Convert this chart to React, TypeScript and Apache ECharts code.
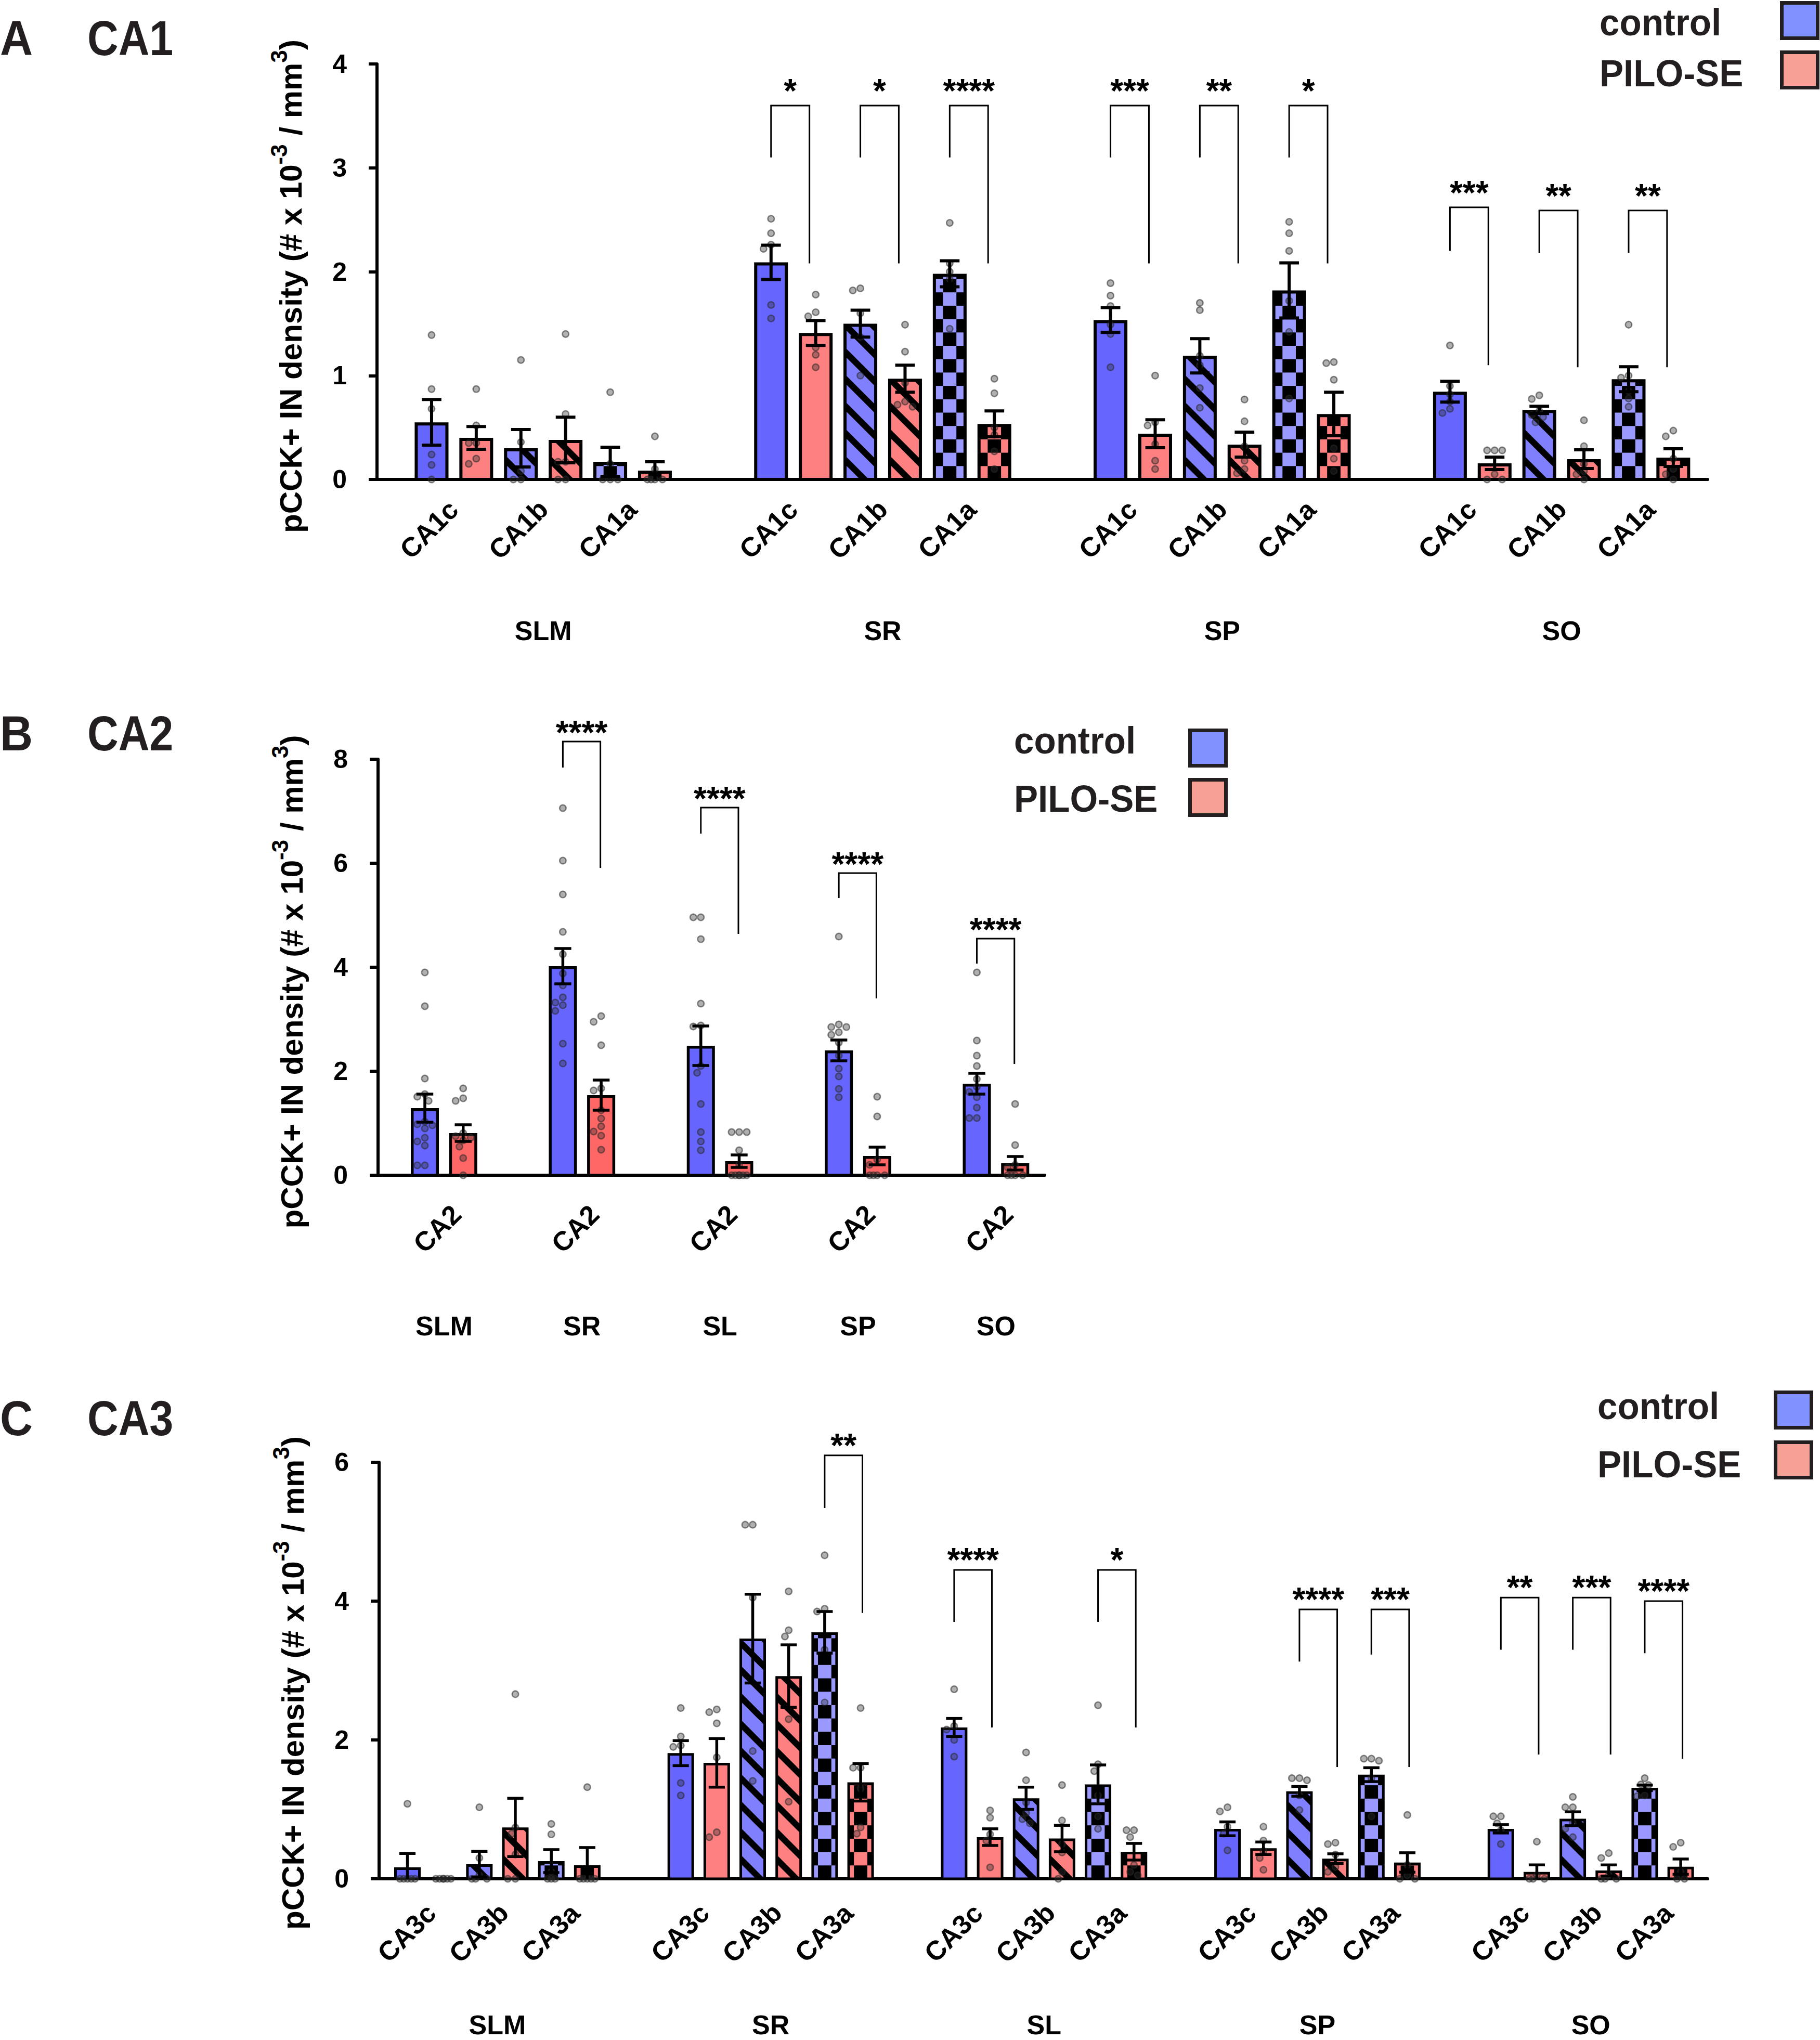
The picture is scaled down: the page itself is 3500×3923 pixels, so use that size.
import React, { useEffect, useRef } from "react";
import * as echarts from "echarts";

const FONT = '"Liberation Sans", Arial, Helvetica, sans-serif';
const TXT = "#231f20";

// ---------------- Panel A : CA1 ----------------
const A_LAYERS = ["SLM", "SR", "SP", "SO"];
const A_SUBFIELDS = ["CA1c", "CA1b", "CA1a"];
const A_CONTROL_MEAN = [0.55, 0.30, 0.17, 2.09, 1.50, 1.98, 1.535, 1.19, 1.82, 0.845, 0.67, 0.965];
const A_CONTROL_SEM = [0.22, 0.18, 0.14, 0.165, 0.13, 0.125, 0.12, 0.165, 0.265, 0.10, 0.035, 0.12];
const A_PILO_MEAN = [0.40, 0.38, 0.085, 1.41, 0.97, 0.535, 0.44, 0.335, 0.63, 0.155, 0.195, 0.21];
const A_PILO_SEM = [0.11, 0.22, 0.085, 0.12, 0.13, 0.125, 0.135, 0.12, 0.21, 0.06, 0.09, 0.085];
const A_CONTROL_POINTS = [
  [1.39, 0.87, 0.68, 0.24, 0.14, 0.0],
  [1.15, 0.36, 0.08, 0.0, 0.0],
  [0.84, 0.15, 0.0, 0.0, 0.0],
  [2.51, 2.37, 2.26, 2.22, 1.68, 1.55],
  [1.84, 1.82, 1.6, 1.37, 1.0],
  [2.47, 2.08, 2.0, 1.93, 1.45],
  [1.89, 1.77, 1.67, 1.49, 1.4, 1.08],
  [1.7, 1.63, 1.19, 1.1, 0.88, 0.69],
  [2.48, 2.37, 2.2, 1.72, 1.42, 0.78],
  [1.29, 0.9, 0.82, 0.75, 0.68, 0.64],
  [0.81, 0.775, 0.66, 0.62, 0.6, 0.55],
  [1.49, 1.0, 0.98, 0.85, 0.78, 0.7],
];
const A_PILO_POINTS = [
  [0.87, 0.52, 0.35, 0.35, 0.2, 0.15],
  [1.4, 0.63, 0.17, 0.17, 0.0, 0.0],
  [0.415, 0.1, 0.0, 0.0, 0.0, 0.0],
  [1.78, 1.61, 1.57, 1.27, 1.2, 1.08],
  [1.49, 1.23, 0.93, 0.75, 0.72, 0.7],
  [0.97, 0.83, 0.5, 0.43, 0.27, 0.1],
  [1.0, 0.55, 0.52, 0.34, 0.18, 0.1],
  [0.77, 0.56, 0.32, 0.18, 0.1, 0.06],
  [1.13, 1.12, 0.96, 0.3, 0.2, 0.08],
  [0.28, 0.28, 0.28, 0.05, 0.0, 0.0],
  [0.57, 0.32, 0.15, 0.08, 0.05, 0.0],
  [0.47, 0.415, 0.2, 0.1, 0.05, 0.0],
];
const A_SIGNIFICANCE = [
  { layer: 1, sub: 0, top: 3.6, left: 3.1, right: 2.08, label: "*" },
  { layer: 1, sub: 1, top: 3.6, left: 3.1, right: 2.08, label: "*" },
  { layer: 1, sub: 2, top: 3.6, left: 3.1, right: 2.08, label: "****" },
  { layer: 2, sub: 0, top: 3.6, left: 3.1, right: 2.08, label: "***" },
  { layer: 2, sub: 1, top: 3.6, left: 3.1, right: 2.08, label: "**" },
  { layer: 2, sub: 2, top: 3.6, left: 3.1, right: 2.08, label: "*" },
  { layer: 3, sub: 0, top: 2.62, left: 2.2, right: 1.1, label: "***" },
  { layer: 3, sub: 1, top: 2.59, left: 2.18, right: 1.08, label: "**" },
  { layer: 3, sub: 2, top: 2.59, left: 2.18, right: 1.08, label: "**" },
];

// ---------------- Panel B : CA2 ----------------
const B_LAYERS = ["SLM", "SR", "SL", "SP", "SO"];
const B_SUBFIELDS = ["CA2"];
const B_CONTROL_MEAN = [1.29, 4.02, 2.49, 2.40, 1.76];
const B_CONTROL_SEM = [0.27, 0.34, 0.38, 0.20, 0.20];
const B_PILO_MEAN = [0.81, 1.54, 0.27, 0.37, 0.23];
const B_PILO_SEM = [0.16, 0.29, 0.12, 0.17, 0.13];
const B_CONTROL_POINTS = [
  [3.9, 3.25, 1.86, 1.56, 1.51, 1.43, 1.03, 0.98, 0.96, 0.9, 0.72, 0.65, 0.57, 0.19, 0.19],
  [7.06, 6.05, 5.4, 4.68, 4.25, 3.88, 3.65, 3.42, 3.32, 3.27, 3.16, 2.53, 2.15],
  [4.96, 4.96, 4.54, 3.3, 2.88, 2.86, 2.1, 1.97, 1.37, 0.83, 0.65, 0.48],
  [4.59, 2.9, 2.85, 2.85, 2.75, 2.7, 2.55, 2.3, 2.05, 1.9, 1.66, 1.5],
  [3.9, 2.59, 2.3, 2.1, 1.85, 1.7, 1.6, 1.5, 1.3, 1.1, 1.1],
];
const B_PILO_POINTS = [
  [1.67, 1.48, 1.43, 0.81, 0.75, 0.72, 0.67, 0.55, 0.33, 0.0],
  [3.06, 2.95, 2.5, 1.67, 1.63, 1.25, 1.09, 0.94, 0.84, 0.76, 0.49],
  [0.83, 0.83, 0.83, 0.48, 0.2, 0, 0, 0, 0, 0, 0],
  [1.51, 1.13, 0.3, 0.2, 0, 0, 0, 0],
  [1.37, 0.58, 0.2, 0.15, 0, 0, 0, 0],
];
const B_SIGNIFICANCE = [
  { layer: 1, sub: 0, top: 8.34, left: 7.84, right: 5.91, label: "****" },
  { layer: 2, sub: 0, top: 7.07, left: 6.57, right: 4.64, label: "****" },
  { layer: 3, sub: 0, top: 5.81, left: 5.33, right: 3.4, label: "****" },
  { layer: 4, sub: 0, top: 4.55, left: 4.07, right: 2.14, label: "****" },
];

// ---------------- Panel C : CA3 ----------------
const C_LAYERS = ["SLM", "SR", "SL", "SP", "SO"];
const C_SUBFIELDS = ["CA3c", "CA3b", "CA3a"];
const C_CONTROL_MEAN = [0.165, 0.21, 0.255, 1.81, 3.46, 3.55, 2.18, 1.16, 1.36, 0.72, 1.26, 1.5, 0.72, 0.865, 1.31];
const C_CONTROL_SEM = [0.2, 0.185, 0.165, 0.18, 0.64, 0.3, 0.13, 0.16, 0.28, 0.1, 0.07, 0.1, 0.06, 0.1, 0.04];
const C_PILO_MEAN = [0, 0.74, 0.195, 1.67, 2.92, 1.39, 0.6, 0.58, 0.39, 0.44, 0.29, 0.235, 0.1, 0.12, 0.175];
const C_PILO_SEM = [0, 0.42, 0.255, 0.35, 0.45, 0.27, 0.12, 0.19, 0.12, 0.09, 0.07, 0.14, 0.1, 0.08, 0.11];
const C_CONTROL_POINTS = [
  [1.08, 0, 0, 0, 0, 0],
  [1.03, 0.3, 0.05, 0, 0, 0],
  [0.79, 0.64, 0.1, 0, 0, 0],
  [2.46, 2.05, 1.92, 1.9, 1.38, 1.2],
  [5.1, 5.1, 4.05, 1.84, 1.41],
  [4.66, 3.89, 3.85, 3.3, 2.54],
  [2.73, 2.2, 2.15, 2.0, 1.76],
  [1.82, 1.42, 1.1, 0.95, 0.86, 0.8],
  [2.5, 1.65, 1.55, 1.2, 0.9, 0.72],
  [1.03, 0.97, 0.75, 0.65, 0.41],
  [1.45, 1.45, 1.42, 1.2, 0.99],
  [1.73, 1.73, 1.7, 1.45, 0.9],
  [0.9, 0.9, 0.8, 0.7, 0.5],
  [1.18, 1.03, 1.03, 0.8, 0.72, 0.6],
  [1.45, 1.36, 1.35, 1.2, 1.19],
];
const C_PILO_POINTS = [
  [0, 0, 0, 0, 0, 0],
  [2.66, 0.74, 0.65, 0.35, 0, 0],
  [1.32, 0, 0, 0, 0, 0],
  [2.44, 2.4, 2.24, 1.75, 0.67, 0.6],
  [4.14, 3.58, 3.49, 2.3, 1.11],
  [2.46, 1.6, 1.6, 1.3, 0.74, 0.65],
  [0.985, 0.88, 0.64, 0.55, 0.165],
  [1.35, 0.84, 0.5, 0.38, 0.1, 0],
  [0.7, 0.7, 0.6, 0.2, 0.1, 0.05],
  [0.75, 0.55, 0.4, 0.3, 0.13],
  [0.52, 0.5, 0.35, 0.17, 0.1],
  [0.92, 0.2, 0.05, 0, 0],
  [0.535, 0.05, 0, 0, 0],
  [0.37, 0.3, 0.05, 0, 0, 0],
  [0.52, 0.46, 0.1, 0, 0],
];
const C_SIGNIFICANCE = [
  { layer: 1, sub: 2, top: 6.1, left: 5.34, right: 3.83, label: "**" },
  { layer: 2, sub: 0, top: 4.45, left: 3.7, right: 2.18, label: "****" },
  { layer: 2, sub: 2, top: 4.45, left: 3.7, right: 2.18, label: "*" },
  { layer: 3, sub: 1, top: 3.88, left: 3.13, right: 1.61, label: "****" },
  { layer: 3, sub: 2, top: 3.88, left: 3.23, right: 1.61, label: "***" },
  { layer: 4, sub: 0, top: 4.05, left: 3.3, right: 1.79, label: "**" },
  { layer: 4, sub: 1, top: 4.05, left: 3.3, right: 1.79, label: "***" },
  { layer: 4, sub: 2, top: 4.0, left: 3.25, right: 1.73, label: "****" },
];

const LEGEND_LABELS = ["control", "PILO-SE"];
const Y_TITLE = "{t|pCCK+ IN density (# x 10}{s|-3}{t| / mm}{s|3}{t|)}";

// ---------------- layout / style (not data) ----------------
const PANELS = [
  {
    letter: "A", region: "CA1",
    layers: A_LAYERS, subs: A_SUBFIELDS,
    ctrlMean: A_CONTROL_MEAN, ctrlSem: A_CONTROL_SEM, piloMean: A_PILO_MEAN, piloSem: A_PILO_SEM,
    ctrlPts: A_CONTROL_POINTS, piloPts: A_PILO_POINTS, sig: A_SIGNIFICANCE,
    grid: { left: 725, top: 123, width: 2559, height: 799 },
    yMax: 4, yInterval: 1, xMin: -1.222, xMax: 28.57, groupPitch: 7.6,
    barW: 0.757, capW: 0.44, rightLeg: 0.86, borderW: 6, errW: 6,
    labelDx: -48, labelDy: 96, groupDy: 291, starGap: 40, nameShift: 56,
    ctrlColors: ["#6666ff", "#8080ff", "#9999ff"], piloColors: ["#ff8080", "#ff8080", "#ff8080"],
    patterns: ["solid", "hatch", "checker"],
    title: { y: 73 },
    legend: { textX: 3076, boxX: 3423, box1Y: 2, box2Y: 97, t1: 43, t2: 141 },
  },
  {
    letter: "B", region: "CA2",
    layers: B_LAYERS, subs: B_SUBFIELDS,
    ctrlMean: B_CONTROL_MEAN, ctrlSem: B_CONTROL_SEM, piloMean: B_PILO_MEAN, piloSem: B_PILO_SEM,
    ctrlPts: B_CONTROL_POINTS, piloPts: B_PILO_POINTS, sig: B_SIGNIFICANCE,
    grid: { left: 727, top: 1460, width: 1282, height: 800 },
    yMax: 8, yInterval: 2, xMin: -1.221, xMax: 16.17, groupPitch: 3.6,
    barW: 0.733, capW: 0.44, rightLeg: 0.98, borderW: 5.5, errW: 5.5,
    labelDx: -13, labelDy: 103, groupDy: 290, starGap: 29, nameShift: 56,
    ctrlColors: ["#6666ff"], piloColors: ["#ff6666"],
    patterns: ["solid"],
    title: { y: 1410 },
    legend: { textX: 1950, boxX: 2285, box1Y: 1401, box2Y: 1496, t1: 1424, t2: 1536 },
  },
  {
    letter: "C", region: "CA3",
    layers: C_LAYERS, subs: C_SUBFIELDS,
    ctrlMean: C_CONTROL_MEAN, ctrlSem: C_CONTROL_SEM, piloMean: C_PILO_MEAN, piloSem: C_PILO_SEM,
    ctrlPts: C_CONTROL_POINTS, piloPts: C_PILO_POINTS, sig: C_SIGNIFICANCE,
    grid: { left: 729, top: 2812, width: 2555, height: 801 },
    yMax: 6, yInterval: 2, xMin: -0.788, xMax: 36.15, groupPitch: 7.6,
    barW: 0.737, capW: 0.45, rightLeg: 1.05, borderW: 5, errW: 5.5,
    labelDx: -36, labelDy: 104, groupDy: 281, starGap: 31, nameShift: 48,
    ctrlColors: ["#6666ff", "#8080ff", "#9999ff"], piloColors: ["#ff8080", "#ff8080", "#ff8080"],
    patterns: ["solid", "hatch", "checker"],
    title: { y: 2727 },
    legend: { textX: 3072, boxX: 3411, box1Y: 2674, box2Y: 2770, t1: 2704, t2: 2816 },
  },
];

function clipAxis(pts: number[][], axis: number, val: number, keepGreater: boolean) {
  const out: number[][] = [];
  for (let i = 0; i < pts.length; i++) {
    const a = pts[i];
    const b = pts[(i + 1) % pts.length];
    const ina = keepGreater ? a[axis] >= val : a[axis] <= val;
    const inb = keepGreater ? b[axis] >= val : b[axis] <= val;
    if (ina) out.push(a);
    if (ina !== inb) {
      const t = (val - a[axis]) / (b[axis] - a[axis]);
      out.push([a[0] + t * (b[0] - a[0]), a[1] + t * (b[1] - a[1])]);
    }
  }
  return out;
}

function clipToRect(poly: number[][], x1: number, y1: number, x2: number, y2: number) {
  let p = clipAxis(poly, 0, x1, true);
  if (p.length) p = clipAxis(p, 0, x2, false);
  if (p.length) p = clipAxis(p, 1, y1, true);
  if (p.length) p = clipAxis(p, 1, y2, false);
  return p;
}

function swarm(ys: number[], d: number, limit: number) {
  const offs = new Array(ys.length).fill(0);
  const placed: number[][] = [];
  const cands = [0];
  for (let m = 1; m <= 10; m++) cands.push(-m * d / 2, m * d / 2);
  for (let i = 0; i < ys.length; i++) {
    let best = 0;
    let bestScore = -1;
    for (const c of cands) {
      if (Math.abs(c) > limit) continue;
      let minD = Infinity;
      for (const q of placed) minD = Math.min(minD, Math.hypot(q[0] - c, q[1] - ys[i]));
      if (minD >= d * 0.95) { best = c; break; }
      if (minD > bestScore) { bestScore = minD; best = c; }
    }
    offs[i] = best;
    placed.push([best, ys[i]]);
  }
  return offs;
}

function buildPanel(P: any, p: number) {
  const nSub = P.subs.length;
  const bars: any[] = [];
  P.layers.forEach((_: string, g: number) => {
    P.subs.forEach((_s: string, s: number) => {
      const i = g * nSub + s;
      const k0 = g * P.groupPitch + s * 2;
      bars.push({ k: k0, mean: P.ctrlMean[i], sem: P.ctrlSem[i], pattern: P.patterns[s], color: P.ctrlColors[s], pts: P.ctrlPts[i] });
      bars.push({ k: k0 + 1, mean: P.piloMean[i], sem: P.piloSem[i], pattern: P.patterns[s], color: P.piloColors[s], pts: P.piloPts[i] });
    });
  });

  const barSeries = {
    type: "custom", xAxisIndex: p, yAxisIndex: p, clip: false, silent: true, z: 2,
    data: bars.map((b, bi) => [b.k, b.mean, bi]),
    renderItem: (params: any, api: any) => {
      const b = bars[api.value(2)];
      const top = api.coord([api.value(0), api.value(1)]);
      const base = api.coord([api.value(0), 0]);
      if (base[1] - top[1] < 0.5) return { type: "group", children: [] };
      const wPx = api.size([P.barW, 0])[0];
      const lw = P.borderW;
      const cx = base[0];
      const x1 = cx - wPx / 2 + lw / 2;
      const x2 = cx + wPx / 2 - lw / 2;
      const y1 = top[1] + lw / 2;
      const y2 = base[1];
      const children: any[] = [
        { type: "rect", shape: { x: x1, y: y1, width: x2 - x1, height: y2 - y1 }, style: { fill: b.color } },
      ];
      if (b.pattern === "hatch") {
        const P_V = 52, T = 17;
        const c0 = y2 - x1 + 6;
        for (let n = -2; n < 400; n++) {
          const c = c0 - n * P_V;
          if (c + T < y1 - x2) break;
          const poly = [
            [x1 - 3, x1 - 3 + c], [x2 + 3, x2 + 3 + c],
            [x2 + 3, x2 + 3 + c + T], [x1 - 3, x1 - 3 + c + T],
          ];
          const cl = clipToRect(poly, x1, y1, x2, y2);
          if (cl.length >= 3) children.push({ type: "polygon", shape: { points: cl }, style: { fill: "#000" } });
        }
      } else if (b.pattern === "checker") {
        const s = 25.7;
        for (let i = -4; i <= 4; i++) {
          const cxa = cx + (i - 0.5) * s;
          const cxb = cxa + s;
          const ax = Math.max(cxa, x1), bx = Math.min(cxb, x2);
          if (bx <= ax) continue;
          for (let r = 0; r < 400; r++) {
            const yb = y2 - r * s;
            const ya = yb - s;
            if (yb <= y1) break;
            if ((i + r) % 2 !== 0) continue;
            const ay = Math.max(ya, y1);
            children.push({ type: "rect", shape: { x: ax, y: ay, width: bx - ax, height: yb - ay }, style: { fill: "#000" } });
          }
        }
      }
      children.push({
        type: "rect", shape: { x: x1, y: y1, width: x2 - x1, height: y2 - y1 },
        style: { fill: "none", stroke: "#000", lineWidth: lw },
      });
      return { type: "group", children };
    },
  };

  const pointData: number[][] = [];
  bars.forEach((b, bi) => b.pts.forEach((v: number, pi: number) => pointData.push([b.k, v, bi, pi])));
  const pointSeries = {
    type: "custom", xAxisIndex: p, yAxisIndex: p, clip: false, silent: true, z: 3,
    data: pointData,
    renderItem: (params: any, api: any) => {
      const b = bars[api.value(2)];
      const pi = api.value(3);
      const base = api.coord([b.k, 0]);
      const ys = b.pts.map((v: number) => api.coord([b.k, v])[1]);
      const wPx = api.size([P.barW, 0])[0];
      const offs = swarm(ys, 14.5, wPx / 2 - 6);
      return {
        type: "circle",
        shape: { cx: base[0] + offs[pi], cy: ys[pi], r: 6.2 },
        style: { fill: "rgba(48,48,48,0.38)", stroke: "rgba(40,40,40,0.55)", lineWidth: 2.5 },
      };
    },
  };

  const errSeries = {
    type: "custom", xAxisIndex: p, yAxisIndex: p, clip: false, silent: true, z: 4,
    data: bars.map((b) => [b.k, b.mean, b.sem]),
    renderItem: (params: any, api: any) => {
      const k = api.value(0), m = api.value(1), e = api.value(2);
      if (e <= 0) return { type: "group", children: [] };
      const hi = api.coord([k, m + e]);
      const lo = api.coord([k, Math.max(0, m - e)]);
      const cap = api.size([P.capW, 0])[0];
      const st = { stroke: "#000", lineWidth: P.errW, lineCap: "butt" };
      const ch: any[] = [
        { type: "line", shape: { x1: hi[0], y1: hi[1], x2: lo[0], y2: lo[1] }, style: st },
        { type: "line", shape: { x1: hi[0] - cap / 2, y1: hi[1], x2: hi[0] + cap / 2, y2: hi[1] }, style: st },
      ];
      if (m - e > 0) ch.push({ type: "line", shape: { x1: lo[0] - cap / 2, y1: lo[1], x2: lo[0] + cap / 2, y2: lo[1] }, style: st });
      return { type: "group", children: ch };
    },
  };

  const sigSeries = {
    type: "custom", xAxisIndex: p, yAxisIndex: p, clip: false, silent: true, z: 5,
    data: P.sig.map((s: any, si: number) => [s.layer * P.groupPitch + s.sub * 2, s.top, s.left, s.right, si]),
    renderItem: (params: any, api: any) => {
      const k = api.value(0);
      const s = P.sig[api.value(4)];
      const L = api.coord([k, api.value(2)]);
      const T = api.coord([k, api.value(1)]);
      const R = api.coord([k + P.rightLeg, api.value(3)]);
      return {
        type: "group",
        children: [
          {
            type: "polyline",
            shape: { points: [[L[0], L[1]], [L[0], T[1]], [R[0], T[1]], [R[0], R[1]]] },
            style: { fill: "none", stroke: "#000", lineWidth: 3 },
          },
          {
            type: "text", x: (L[0] + R[0]) / 2, y: T[1] - P.starGap + 12,
            style: {
              text: s.label, fontSize: 64, fontWeight: "bold", fontFamily: FONT, fill: "#000",
              align: "center", verticalAlign: "middle", textAlign: "center", textVerticalAlign: "middle",
            },
          },
        ],
      };
    },
  };

  const subLabelData: number[][] = [];
  P.layers.forEach((_: string, g: number) => P.subs.forEach((_s: string, s: number) => subLabelData.push([g * P.groupPitch + s * 2 + 0.5, 0, s])));
  const subLabelSeries = {
    type: "custom", xAxisIndex: p, yAxisIndex: p, clip: false, silent: true, z: 5,
    data: subLabelData,
    renderItem: (params: any, api: any) => {
      const pt = api.coord([api.value(0), 0]);
      return {
        type: "text", x: pt[0] + P.labelDx, y: pt[1] + P.labelDy, rotation: Math.PI / 4,
        style: {
          text: P.subs[api.value(2)], fontSize: 52, fontWeight: "bold", fontFamily: FONT, fill: "#000",
          align: "center", verticalAlign: "middle", textAlign: "center", textVerticalAlign: "middle",
        },
      };
    },
  };

  const layerLabelSeries = {
    type: "custom", xAxisIndex: p, yAxisIndex: p, clip: false, silent: true, z: 5,
    data: P.layers.map((_: string, g: number) => [g * P.groupPitch + (nSub * 2 - 1) / 2, 0, g]),
    renderItem: (params: any, api: any) => {
      const pt = api.coord([api.value(0), 0]);
      return {
        type: "text", x: pt[0], y: pt[1] + P.groupDy,
        style: {
          text: P.layers[api.value(2)], fontSize: 52, lineHeight: 52, fontWeight: "bold", fontFamily: FONT, fill: "#000",
          align: "center", verticalAlign: "middle", textAlign: "center", textVerticalAlign: "middle",
        },
      };
    },
  };

  const grid = { ...P.grid, containLabel: false };
  const xAxis = {
    type: "value", gridIndex: p, min: P.xMin, max: P.xMax,
    axisLine: { show: true, onZero: false, lineStyle: { color: "#000", width: 6 } },
    axisTick: { show: false }, axisLabel: { show: false }, splitLine: { show: false },
  };
  const yAxis = {
    type: "value", gridIndex: p, min: 0, max: P.yMax, interval: P.yInterval,
    axisLine: { show: true, onZero: false, lineStyle: { color: "#000", width: 6 } },
    axisTick: { show: true, length: 16, lineStyle: { color: "#000", width: 6 } },
    axisLabel: { fontSize: 50, fontWeight: "bold", fontFamily: FONT, color: "#000", margin: 58 },
    splitLine: { show: false },
    name: Y_TITLE, nameLocation: "middle", nameRotate: 90, nameGap: 121,
    nameTextStyle: {
      padding: [0, P.nameShift, 0, 0],
      rich: {
        t: { fontSize: 60, fontWeight: "bold", fontFamily: FONT, color: "#000", lineHeight: 90 },
        s: { fontSize: 44, fontWeight: "bold", fontFamily: FONT, color: "#000", lineHeight: 44, verticalAlign: "top" },
      },
    },
  };

  const L = P.legend;
  const textEl = (text: string, x: number, y: number, size: number, sx: number) => ({
    type: "text", x, y, scaleX: sx,
    style: {
      text, font: `bold ${size}px ${FONT}`, fill: TXT, lineHeight: Math.round(size * 0.8),
      align: "left", verticalAlign: "middle", textAlign: "left", textVerticalAlign: "middle",
    },
  });
  const graphics = [
    textEl(P.letter, 0, P.title.y, 95, 0.92),
    textEl(P.region, 168, P.title.y, 95, 0.87),
    textEl(LEGEND_LABELS[0], L.textX, L.t1, 72, 0.96),
    textEl(LEGEND_LABELS[1], L.textX, L.t2, 72, 0.96),
    { type: "rect", shape: { x: L.boxX + 3.5, y: L.box1Y + 3.5, width: 69, height: 68 }, style: { fill: "#8191ff", stroke: "#231f20", lineWidth: 7 } },
    { type: "rect", shape: { x: L.boxX + 3.5, y: L.box2Y + 3.5, width: 69, height: 68 }, style: { fill: "#f6a096", stroke: "#231f20", lineWidth: 7 } },
  ];

  return {
    grid, xAxis, yAxis,
    series: [barSeries, pointSeries, errSeries, sigSeries, subLabelSeries, layerLabelSeries],
    graphics,
  };
}

export default function App() {
  const ref = useRef<HTMLDivElement>(null);
  useEffect(() => {
    if (!ref.current) return;
    const chart = echarts.init(ref.current, undefined, { renderer: "svg" });
    const built = PANELS.map((P, i) => buildPanel(P, i));
    chart.setOption({
      animation: false,
      backgroundColor: "#ffffff",
      grid: built.map((b) => b.grid),
      xAxis: built.map((b) => b.xAxis),
      yAxis: built.map((b) => b.yAxis),
      series: built.flatMap((b) => b.series),
      graphic: { elements: built.flatMap((b) => b.graphics) },
    } as any);
    return () => chart.dispose();
  }, []);
  return (
    <div
      ref={ref}
      style={{ position: "absolute", left: 0, top: 0, width: 3500, height: 3923, background: "#fff" }}
    />
  );
}
